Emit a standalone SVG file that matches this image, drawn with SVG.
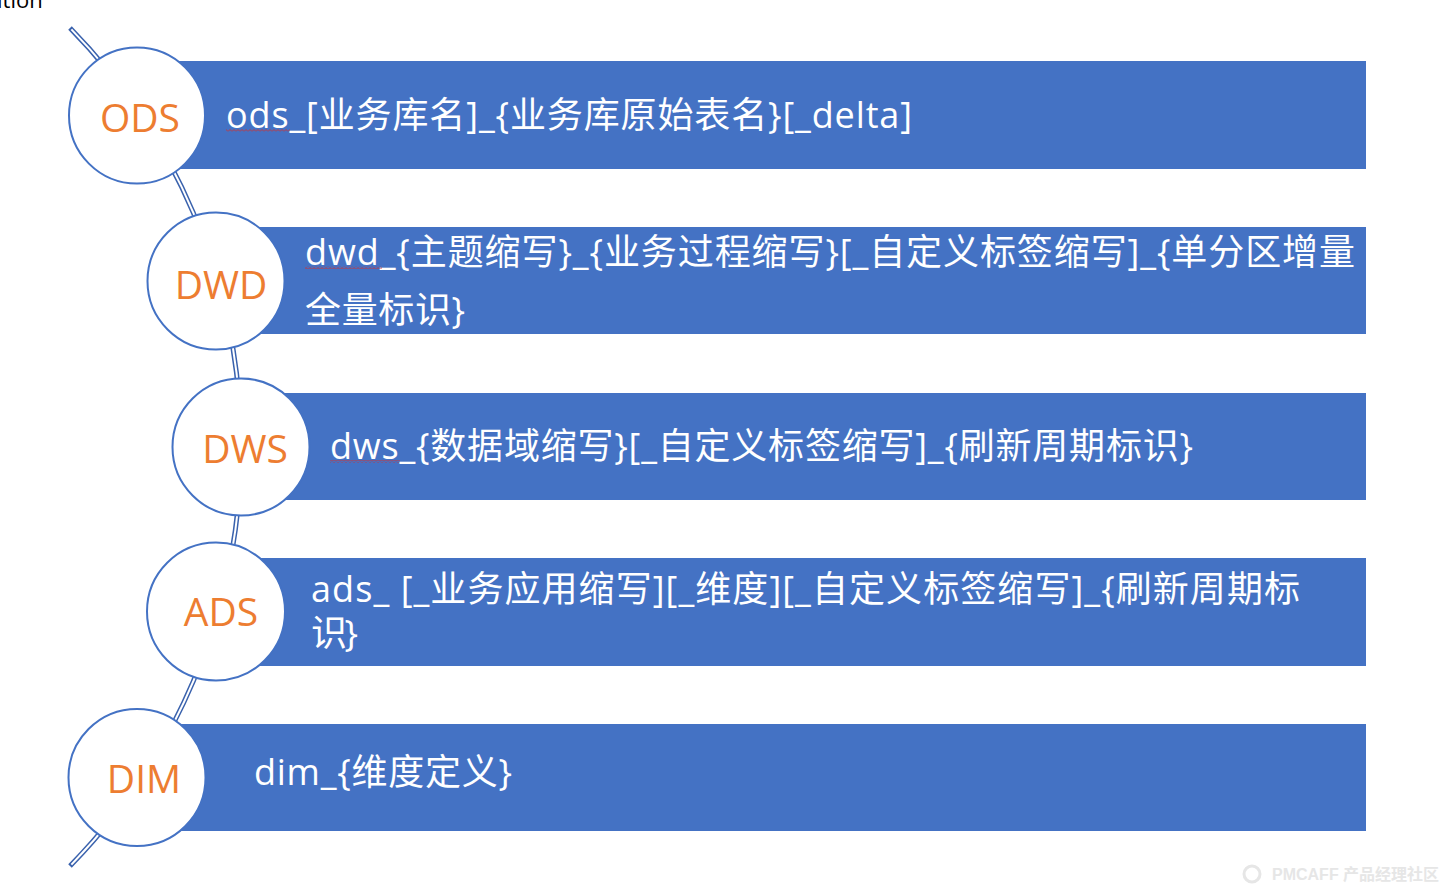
<svg xmlns="http://www.w3.org/2000/svg" width="1444" height="895" viewBox="0 0 1444 895">
<defs>
<style>
.bar{fill:#4472C4;}
.ring{fill:#ffffff;stroke:#4472C4;stroke-width:2;}
.lbl{font-family:"Open Sans","Noto Sans CJK SC",sans-serif;font-size:39px;fill:#ED7D31;text-anchor:middle;dominant-baseline:central;}
.txt{font-family:"Open Sans","Noto Sans CJK SC",sans-serif;font-size:36px;fill:#ffffff;}
.wm{font-family:"Liberation Sans","Noto Sans CJK SC",sans-serif;font-size:16px;fill:#e6e6e6;font-weight:bold;}
</style>
<pattern id="wavy" width="4" height="3" patternUnits="userSpaceOnUse">
<path d="M0,2.5 L2,0.5 L4,2.5" fill="none" stroke="#d03030" stroke-width="0.9"/>
</pattern>
</defs>
<rect x="0" y="0" width="1444" height="895" fill="#ffffff"/>
<text x="-3" y="8" font-family="Open Sans, sans-serif" font-size="22" fill="#000000">ition</text>

<g id="connectors">
<path d="M70,28 A598.8,598.8 0 0 1 70,866" fill="none" stroke="#3A62AD" stroke-width="5"/>
<path d="M71.4,29.4 A598.8,598.8 0 0 1 71.4,864.6" fill="none" stroke="#ffffff" stroke-width="2"/>
</g>

<g id="ods">
<rect class="bar" x="137" y="61" width="1229" height="108"/>
<circle class="ring" cx="137" cy="115.5" r="68"/>
<text class="lbl" x="140" y="116">ODS</text>
<text class="txt" x="226" y="128" textLength="686" lengthAdjust="spacing">ods_[业务库名]_{业务库原始表名}[_delta]</text>
<rect x="226" y="129" width="64" height="3" fill="url(#wavy)"/>
</g>

<g id="dwd">
<rect class="bar" x="216" y="227" width="1150" height="107"/>
<circle class="ring" cx="216" cy="281" r="68.5"/>
<text class="lbl" x="221" y="283">DWD</text>
<text class="txt" x="305" y="265" textLength="1050" lengthAdjust="spacing">dwd_{主题缩写}_{业务过程缩写}[_自定义标签缩写]_{单分区增量</text>
<text class="txt" x="305" y="323" textLength="160" lengthAdjust="spacing">全量标识}</text>
<rect x="305" y="266" width="77" height="3" fill="url(#wavy)"/>
</g>

<g id="dws">
<rect class="bar" x="241" y="393" width="1125" height="107"/>
<circle class="ring" cx="241" cy="447" r="68.5"/>
<text class="lbl" x="245" y="447">DWS</text>
<text class="txt" x="330" y="459" textLength="863" lengthAdjust="spacing">dws_{数据域缩写}[_自定义标签缩写]_{刷新周期标识}</text>
<rect x="330" y="460" width="70" height="3" fill="url(#wavy)"/>
</g>

<g id="ads">
<rect class="bar" x="216" y="558" width="1150" height="108"/>
<circle class="ring" cx="216" cy="611.5" r="69"/>
<text class="lbl" x="221" y="610">ADS</text>
<text class="txt" x="311" y="602" textLength="989" lengthAdjust="spacing">ads_ [_业务应用缩写][_维度][_自定义标签缩写]_{刷新周期标</text>
<text class="txt" x="311" y="646" textLength="47" lengthAdjust="spacing">识}</text>
</g>

<g id="dim">
<rect class="bar" x="137" y="724" width="1229" height="107"/>
<circle class="ring" cx="137" cy="777.5" r="68.5"/>
<text class="lbl" x="144" y="777">DIM</text>
<text class="txt" x="254" y="785" textLength="258" lengthAdjust="spacing">dim_{维度定义}</text>
</g>

<g id="watermark">
<circle cx="1252" cy="874" r="8" fill="none" stroke="#e6e6e6" stroke-width="3"/>
<text class="wm" x="1272" y="880">PMCAFF 产品经理社区</text>
</g>
</svg>
